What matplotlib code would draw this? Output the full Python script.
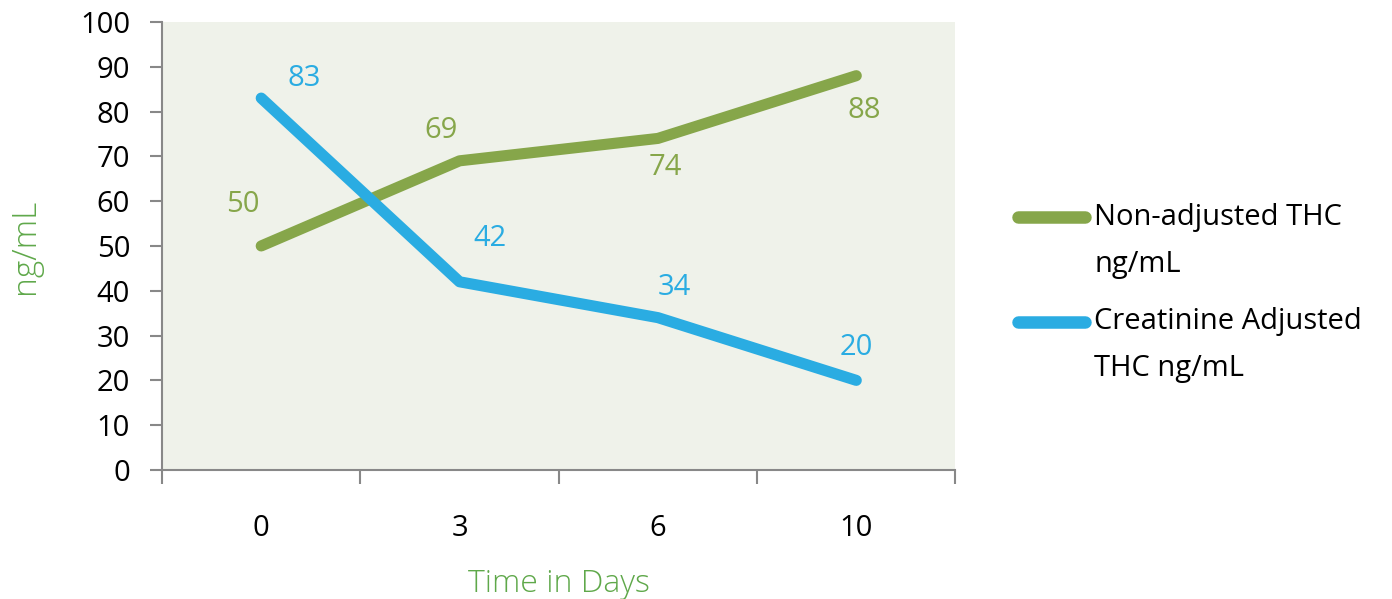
import matplotlib.pyplot as plt
from matplotlib.lines import Line2D

plt.rcParams['font.family'] = ['Open Sans', 'DejaVu Sans']

days = ['0', '3', '6', '10']
non_adjusted = [50, 69, 74, 88]
creatinine_adjusted = [83, 42, 34, 20]
series_names = [['Non-adjusted THC', 'ng/mL'], ['Creatinine Adjusted', 'THC ng/mL']]

green = '#86A64A'
blue = '#2AACE2'
label_green = '#5FA84A'

fig = plt.figure(figsize=(13.92, 5.99), dpi=100)
ax = fig.add_axes([0.1164, 0.2154, 0.570, 0.748])
ax.set_facecolor('#EFF2EA')

x = list(range(len(days)))
ax.plot(x, non_adjusted, color=green, lw=8, solid_capstyle='round')
ax.plot(x, creatinine_adjusted, color=blue, lw=8, solid_capstyle='round')

# data labels (offsets in points)
green_off = [(-13, 30), (-13, 22), (5, -21), (6, -25)]
blue_off = [(31, 14), (22, 31), (12, 22), (0, 24)]
for xi, v, off in zip(x, non_adjusted, green_off):
    ax.annotate(str(v), (xi, v), xytext=off, textcoords='offset points',
                ha='center', va='center', fontsize=21, color=green)
for xi, v, off in zip(x, creatinine_adjusted, blue_off):
    ax.annotate(str(v), (xi, v), xytext=off, textcoords='offset points',
                ha='center', va='center', fontsize=21, color=blue)

ax.set_xlim(-0.5, 3.5)
ax.set_ylim(0, 100)
ax.set_yticks(range(0, 101, 10))
ax.set_xticks(x)
ax.set_xticklabels(days)
ax.set_xticks([-0.5, 0.5, 1.5, 2.5, 3.5], minor=True)
ax.tick_params(axis='x', which='major', length=0, pad=32, labelsize=21)
ax.tick_params(axis='x', which='minor', length=10, width=1.5, color='#888888', direction='out')
ax.tick_params(axis='y', length=9, width=1.5, color='#888888', labelsize=21, pad=14)

for s in ['top', 'right']:
    ax.spines[s].set_visible(False)
for s in ['left', 'bottom']:
    ax.spines[s].set_color('#888888')
    ax.spines[s].set_linewidth(1.5)

ax.set_ylabel('ng/mL', color=label_green, fontsize=24, fontweight='light',
              family=['Open Sans', 'DejaVu Sans'], labelpad=27)
ax.set_xlabel('Time in Days', color=label_green, fontsize=23, fontweight='light',
              family=['Open Sans', 'DejaVu Sans'], labelpad=18)

# legend: handle aligned with the first line of each entry
legend_y = [0.637, 0.463]
for (first, second), col, y in zip(series_names, [green, blue], legend_y):
    fig.add_artist(Line2D([0.7315, 0.7795], [y, y], transform=fig.transFigure,
                          color=col, lw=9, solid_capstyle='round'))
    fig.text(0.786, y, first, fontsize=21, ha='left', va='center')
    fig.text(0.786, y - 0.078, second, fontsize=21, ha='left', va='center')

fig.savefig('out.png', dpi=100)
